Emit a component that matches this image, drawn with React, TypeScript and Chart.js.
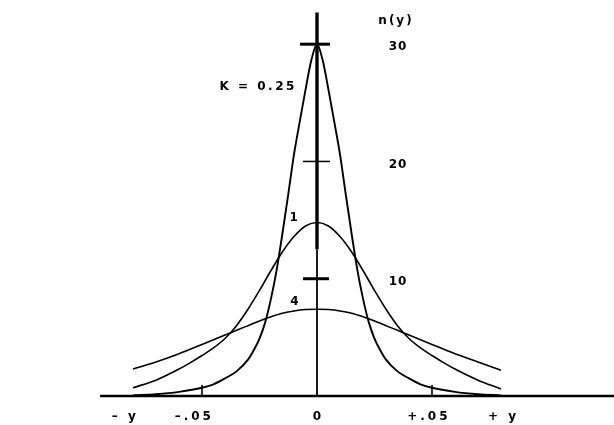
import React, { useEffect, useRef } from "react";
import { Chart, registerables } from "chart.js";

Chart.register(...registerables);

// Curve K = 0.25
const xK025 = [-0.08, -0.07, -0.06, -0.05, -0.045, -0.04, -0.035, -0.03, -0.0275, -0.025, -0.0225, -0.02, -0.0175, -0.015, -0.0125, -0.01, -0.0075, -0.005, -0.0025, 0,
  0.0025, 0.005, 0.0075, 0.01, 0.0125, 0.015, 0.0175, 0.02, 0.0225, 0.025, 0.0275, 0.03, 0.035, 0.04, 0.045, 0.05, 0.06, 0.07, 0.08];
const yK025 = [0.05, 0.15, 0.35, 0.7, 1.0, 1.5, 2.1, 3.1, 3.9, 4.9, 6.3, 8.3, 10.8, 13.9, 17.2, 20.6, 23.4, 26.1, 28.6, 30,
  28.6, 26.1, 23.4, 20.6, 17.2, 13.9, 10.8, 8.3, 6.3, 4.9, 3.9, 3.1, 2.1, 1.5, 1.0, 0.7, 0.35, 0.15, 0.05];

// Curve K = 1
const xK1 = [-0.08, -0.07, -0.06, -0.055, -0.05, -0.045, -0.04, -0.035, -0.03, -0.025, -0.02, -0.015, -0.01, -0.005, 0,
  0.005, 0.01, 0.015, 0.02, 0.025, 0.03, 0.035, 0.04, 0.045, 0.05, 0.055, 0.06, 0.07, 0.08];
const yK1 = [0.7, 1.35, 2.3, 2.85, 3.45, 4.1, 4.9, 6.0, 7.4, 9.0, 10.7, 12.3, 13.6, 14.5, 14.8,
  14.5, 13.6, 12.3, 10.7, 9.0, 7.4, 6.0, 4.9, 4.1, 3.45, 2.85, 2.3, 1.35, 0.6];

// Curve K = 4
const xK4 = [-0.08, -0.07, -0.06, -0.05, -0.04, -0.035, -0.03, -0.025, -0.02, -0.015, -0.01, -0.005, 0,
  0.005, 0.01, 0.015, 0.02, 0.025, 0.03, 0.035, 0.04, 0.05, 0.06, 0.07, 0.08];
const yK4 = [2.3, 2.9, 3.6, 4.4, 5.2, 5.6, 6.0, 6.4, 6.75, 7.05, 7.25, 7.37, 7.4,
  7.37, 7.25, 7.05, 6.75, 6.4, 6.0, 5.6, 5.2, 4.4, 3.6, 2.9, 2.2];

const yTickValues = [10, 20, 30];
const yTickLabels = ["10", "20", "30"];
const xTickValues = [-0.05, 0.05];
const xLabelValues = [-0.084, -0.054, 0, 0.048, 0.0805];
const xLabels = ["\u2013 y", "\u2013.05", "0", "+.05", "+ y"];
const yAxisTitle = "n(y)";
const curveLabels = ["K = 0.25", "1", "4"];
const curveLabelX = [-0.026, -0.01, -0.0097];
const curveLabelY = [26.4, 15.2, 8.0];

const pts = (xs: number[], ys: number[]) => xs.map((x, i) => ({ x, y: ys[i] }));

const overlay = {
  id: "overlay",
  afterDatasetsDraw(chart: any) {
    const { ctx } = chart;
    const xs = chart.scales.x;
    const ys = chart.scales.y;
    const X = (v: number) => xs.getPixelForValue(v);
    const Y = (v: number) => ys.getPixelForValue(v);
    ctx.save();
    ctx.strokeStyle = "#000";
    ctx.fillStyle = "#000";
    ctx.lineCap = "butt";

    // baseline
    ctx.lineWidth = 2.6;
    ctx.beginPath();
    ctx.moveTo(X(-0.0943), Y(0));
    ctx.lineTo(chart.width, Y(0));
    ctx.stroke();

    // vertical axis
    const x0 = X(0);
    ctx.lineWidth = 3.4;
    ctx.beginPath();
    ctx.moveTo(x0, Y(32.7));
    ctx.lineTo(x0, Y(12.5));
    ctx.stroke();
    ctx.lineWidth = 1.8;
    ctx.beginPath();
    ctx.moveTo(x0, Y(12.5));
    ctx.lineTo(x0, Y(0));
    ctx.stroke();

    // y ticks
    const tickL = [14, 14, 17];
    const tickR = [12, 13, 13];
    const tickW = [3, 1.5, 3];
    yTickValues.forEach((v, i) => {
      ctx.lineWidth = tickW[i];
      ctx.beginPath();
      ctx.moveTo(x0 - tickL[i], Y(v));
      ctx.lineTo(x0 + tickR[i], Y(v));
      ctx.stroke();
    });

    // x ticks
    ctx.lineWidth = 1.6;
    xTickValues.forEach((v) => {
      ctx.beginPath();
      ctx.moveTo(X(v), Y(0));
      ctx.lineTo(X(v), Y(0) - 11);
      ctx.stroke();
    });

    // texts
    ctx.font = "bold 12px 'DejaVu Sans'";
    ctx.textBaseline = "middle";
    ctx.textAlign = "center";
    try { (ctx as any).letterSpacing = "1px"; } catch (e) {}
    yTickValues.forEach((v, i) => {
      ctx.fillText(yTickLabels[i], x0 + 81, Y(v) + 3);
    });
    try { (ctx as any).letterSpacing = "2px"; } catch (e) {}
    ctx.fillText(yAxisTitle, x0 + 79, Y(32.0));
    try { (ctx as any).letterSpacing = "3px"; } catch (e) {}
    xLabelValues.forEach((v, i) => {
      ctx.fillText(xLabels[i], X(v) + 1.5, Y(0) + 21);
    });
    try { (ctx as any).letterSpacing = "2.5px"; } catch (e) {}
    curveLabels.forEach((t, i) => {
      ctx.fillText(t, X(curveLabelX[i]) + 1, Y(curveLabelY[i]));
    });
    ctx.restore();
  },
};

export default function App() {
  const ref = useRef<HTMLCanvasElement | null>(null);
  useEffect(() => {
    if (!ref.current) return;
    const ds = (xs: number[], ys: number[], w: number) => ({
      data: pts(xs, ys),
      borderColor: "#000",
      borderWidth: w,
      pointRadius: 0,
      fill: false,
      cubicInterpolationMode: "monotone" as const,
    });
    const chart = new Chart(ref.current, {
      type: "line",
      data: {
        datasets: [ds(xK025, yK025, 1.9), ds(xK1, yK1, 1.6), ds(xK4, yK4, 1.6)],
      },
      options: {
        animation: false,
        responsive: false,
        maintainAspectRatio: false,
        layout: { padding: { left: 87, right: 67, top: 9, bottom: 29 } },
        plugins: { legend: { display: false }, tooltip: { enabled: false } },
        scales: {
          x: { type: "linear", min: -0.1, max: 0.1, display: false },
          y: { type: "linear", min: 0, max: 33, display: false },
        },
      },
      plugins: [overlay],
    });
    return () => chart.destroy();
  }, []);
  return (
    <div style={{ position: "fixed", left: 0, top: 0, width: 614, height: 425, background: "#fff" }}>
      <canvas ref={ref} width={614} height={425} />
    </div>
  );
}
